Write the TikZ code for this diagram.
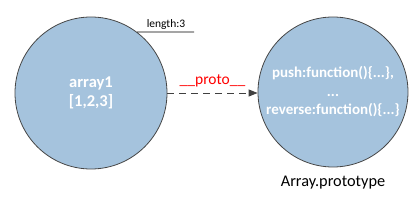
\documentclass[tikz,border=0pt]{standalone}
\usepackage{fontspec}
\setmainfont{Carlito}
\usetikzlibrary{arrows.meta}
\definecolor{circfill}{RGB}{165,195,221}
\definecolor{circline}{RGB}{70,70,70}
\definecolor{arrowcol}{RGB}{64,64,64}
\tikzset{
  obj/.style={circle, draw=circline, line width=0.8pt, fill=circfill, inner sep=0pt,
    text=white, align=center},
  plain/.style={font=\fontsize{11.5}{13}\selectfont, text=black, inner sep=1pt},
  link/.style={draw=arrowcol, line width=0.9pt, dash pattern=on 7pt off 5pt, -{Triangle[length=9pt,width=7pt]}}
}
\begin{document}
\begin{tikzpicture}[x=1pt,y=-1pt]
\useasboundingbox (0,0) rectangle (416,208);
\node[obj, minimum size=152pt, font=\fontsize{16.5}{19}\selectfont\bfseries] (a1) at (91,93) {array1\\{}[1,2,3]};
\node[obj, minimum size=150pt, font=\fontsize{15}{18.5}\selectfont\bfseries] (proto) at (333,92) {push:function()\{...\},\\...\\reverse:function()\{...\}};
\coordinate (lenend) at (194,32);
\draw[line width=0.8pt, black] (a1.53) -- (lenend);
\node[plain, anchor=south] (len) at (166,31) {length:3};
\draw[link] (a1.east) -- (a1.east -| proto.west) node[midway, above=5pt, text=red, font=\fontsize{15.5}{17}\selectfont, inner sep=1pt] (lbl) {\_\_proto\_\_};
\node[plain, font=\fontsize{16.3}{19}\selectfont] (ap) at (333,183) {Array.prototype};
\end{tikzpicture}
\end{document}
